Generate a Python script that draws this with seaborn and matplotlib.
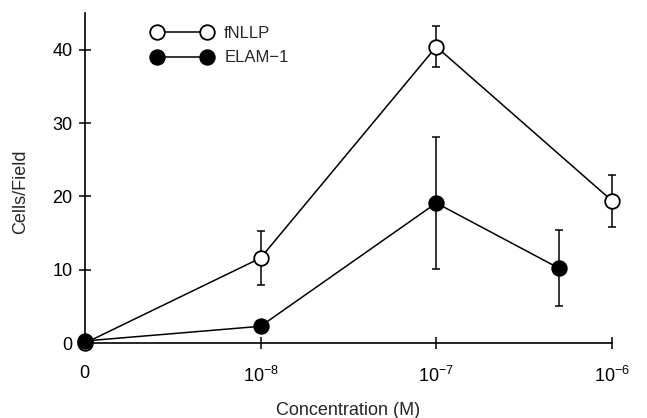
import numpy as np
import pandas as pd
import matplotlib
matplotlib.use("Agg")
import matplotlib.pyplot as plt
import seaborn as sns

# ---- data ----
fnllp_conc = [0, 1e-8, 1e-7, 1e-6]
fnllp_mean = [0.0, 11.6, 40.4, 19.4]
fnllp_err = [0.0, 3.7, 2.8, 3.5]

elam_conc = [0, 1e-8, 1e-7, 5e-7]
elam_mean = [0.3, 2.3, 19.1, 10.2]
elam_err = [0.0, 0.0, 9.0, 5.2]

xtick_conc = [0, 1e-8, 1e-7, 1e-6]
xtick_labels = ["0", r"$10^{-8}$", r"$10^{-7}$", r"$10^{-6}$"]
yticks = [0, 10, 20, 30, 40]


def pos(c):
    # broken log axis: 0 is drawn one decade left of 1e-8
    c = np.asarray(c, dtype=float)
    out = np.zeros_like(c)
    nz = c > 0
    out[nz] = np.log10(c[nz]) + 9
    return out


sns.set_theme(style="ticks")
plt.rcParams["font.family"] = ["Liberation Sans", "DejaVu Sans"]
plt.rcParams["mathtext.fontset"] = "custom"
plt.rcParams["mathtext.rm"] = "Liberation Sans"

fig = plt.figure(figsize=(6.47, 4.18), dpi=100)
ax = fig.add_axes([0.131, 0.179, 0.815, 0.79])

df_f = pd.DataFrame({"x": pos(fnllp_conc), "y": fnllp_mean, "e": fnllp_err})
df_e = pd.DataFrame({"x": pos(elam_conc), "y": elam_mean, "e": elam_err})

for df in (df_f, df_e):
    m = df["e"] > 0
    ax.errorbar(df["x"][m], df["y"][m], yerr=df["e"][m], fmt="none",
                ecolor="black", elinewidth=1.1, capsize=3, capthick=1.1,
                zorder=2, clip_on=False)

sns.lineplot(data=df_f, x="x", y="y", ax=ax, color="black", lw=1.1,
             marker="o", markersize=10.5, markerfacecolor="white",
             markeredgecolor="black", markeredgewidth=1.3,
             label="fNLLP", zorder=3, clip_on=False)
sns.lineplot(data=df_e, x="x", y="y", ax=ax, color="black", lw=1.1,
             marker="o", markersize=10.5, markerfacecolor="black",
             markeredgecolor="black", markeredgewidth=1.3,
             label="ELAM\u22121", zorder=4, clip_on=False)

ax.set_xlim(0, 3)
ax.set_ylim(0, 45)
ax.set_xticks(pos(xtick_conc))
ax.set_xticklabels(xtick_labels)
ax.set_yticks(yticks)
ax.tick_params(axis="both", direction="inout", length=8, width=1.1,
               labelsize=13, colors="black", pad=5)
ax.tick_params(axis="x", pad=12)
for s in ("top", "right"):
    ax.spines[s].set_visible(False)
for s in ("left", "bottom"):
    ax.spines[s].set_linewidth(1.2)
    ax.spines[s].set_color("black")

ax.set_xlabel("Concentration (M)", fontsize=13, labelpad=12)
ax.set_ylabel("Cells/Field", fontsize=13, labelpad=18)
ax.yaxis.set_label_coords(-0.105, 0.46)

leg = ax.legend(loc="upper left", bbox_to_anchor=(0.1, 1.005), frameon=False,
                numpoints=2, handlelength=3.6, fontsize=12, labelspacing=0.55,
                handletextpad=0.7)

fig.savefig("out.png", dpi=100)
